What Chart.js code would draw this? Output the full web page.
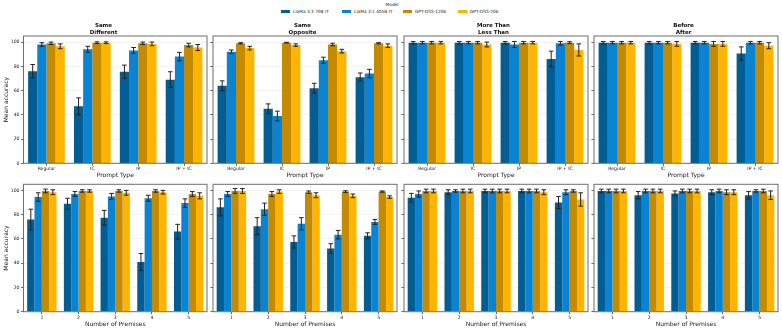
<!DOCTYPE html>
<html><head><meta charset="utf-8">
<script src="https://cdn.jsdelivr.net/npm/chart.js@4.4.1/dist/chart.umd.min.js"></script>
<style>
body{margin:0;background:#fff;width:782px;height:330px;overflow:hidden;position:relative;font-family:"DejaVu Sans",sans-serif;}
canvas{position:absolute;}
.lt{position:absolute;font-size:4.3px;color:#222;white-space:nowrap;line-height:5px;}
.sw{position:absolute;height:3px;width:9px;}
</style></head><body>
<div id="legend"></div>
<script>
// ---------- data ----------
const models = ['LlaMa 3.3 70B IT', 'LlaMa 3.1 405B IT', 'GPT-OSS-120b', 'GPT-OSS-20b'];
const promptTypes = ['Regular', 'IC', 'IP', 'IP + IC'];
const premiseCounts = ['1', '2', '3', '4', '5'];
const yTicks = [0, 20, 40, 60, 80, 100];
const panelTitles = [['Same', 'Different'], ['Same', 'Opposite'], ['More Than', 'Less Than'], ['Before', 'After']];

// rows: [LlaMa 70B, LlaMa 405B, GPT-OSS-120b, GPT-OSS-20b]
const sameDiffPromptMean = [[76, 47, 75.5, 69], [98, 94, 93, 88], [99, 99.5, 99, 97.5], [96.5, 99.5, 98.5, 95.5]];
const sameDiffPromptErr  = [[5.5, 7, 5.5, 6.5], [1.5, 2.5, 2.5, 3.5], [1, 0.7, 1, 1.5], [2, 0.7, 1.5, 2.5]];
const sameOppPromptMean  = [[64, 45, 62, 71], [92, 39, 85, 74], [99, 99.5, 98, 99], [95, 97.5, 92.5, 97]];
const sameOppPromptErr   = [[4, 4, 4, 3.5], [1.5, 4, 2.5, 3.5], [0.5, 0.3, 1, 0.5], [1.5, 1, 1.5, 1.5]];
const moreLessPromptMean = [[99.5, 99.5, 99.5, 86], [99.5, 99.5, 98, 99], [99.5, 99.5, 99.5, 99.5], [99.5, 98, 99.5, 93.5]];
const moreLessPromptErr  = [[1, 1, 1, 6.5], [1, 1, 2.5, 1.5], [1, 1, 1, 0.8], [1, 2, 1, 5]];
const beforeAfterPromptMean = [[99.5, 99.5, 99.5, 90.5], [99.5, 99.5, 99.5, 99.5], [99.5, 99.5, 98.5, 99.5], [99.5, 98.5, 98.5, 97]];
const beforeAfterPromptErr  = [[1, 1, 1, 5.5], [1, 1, 1, 1], [1, 1, 2, 1], [1, 2, 2, 2.5]];

const sameDiffPremMean = [[76, 89, 77.5, 41, 66], [94.5, 97, 95, 93.5, 89.5], [99.5, 99.5, 99.5, 99.5, 97], [98.5, 99.5, 98, 98.5, 95.5]];
const sameDiffPremErr  = [[8.5, 4.5, 6, 7, 6], [3.5, 2, 2.5, 2.5, 3.5], [1.5, 1, 1, 1, 2], [2, 1, 2, 1.5, 2.5]];
const sameOppPremMean  = [[86, 70.5, 57.5, 52, 62.5], [97, 84.5, 72.5, 63.5, 74], [99.5, 97, 98.5, 99, 99], [99.5, 99, 96, 95.5, 94.5]];
const sameOppPremErr   = [[7, 7, 5, 4, 2.5], [2, 5, 5, 3.5, 2], [2, 2, 1, 0.7, 0.5], [2, 1.5, 2, 1.5, 1]];
const moreLessPremMean = [[94, 98.5, 99.5, 99.5, 90], [97, 99.5, 99.5, 99.5, 98.5], [99.5, 99.5, 99.5, 99.5, 99.5], [99.5, 99.5, 99.5, 98.5, 92.5]];
const moreLessPremErr  = [[3.5, 2, 1.5, 1.5, 5], [2.5, 1, 1.5, 1.5, 2], [1.5, 1.5, 1.5, 1.5, 1], [1.5, 1.5, 1.5, 2, 5.5]];
const beforeAfterPremMean = [[99.5, 96, 97.5, 98.5, 96], [99.5, 99.5, 99.5, 99.5, 99.5], [99.5, 99.5, 99.5, 98.5, 99.5], [99.5, 99.5, 99.5, 98.5, 96]];
const beforeAfterPremErr  = [[1.5, 3, 2, 2, 3], [1.5, 1.5, 1.5, 1.5, 1], [1.5, 1.5, 1.5, 2, 1.5], [1.5, 1.5, 1.5, 2, 3.5]];

// ---------- style / layout ----------
const colors = ['#005e94', '#0a84d2', '#c48a00', '#ffb400'];
const FONT = '"DejaVu Sans", sans-serif';
const frameX = [[23.5, 207], [213.3, 397.3], [404, 588], [594, 778]];

const framePlugin = {
  id: 'frameErr',
  afterDatasetsDraw(chart) {
    const ctx = chart.ctx, y = chart.scales.y;
    ctx.save();
    ctx.strokeStyle = '#222';
    ctx.lineWidth = 1;
    chart.data.datasets.forEach((ds, di) => {
      const meta = chart.getDatasetMeta(di);
      meta.data.forEach((bar, i) => {
        const v = ds.data[i], e = ds.errs[i];
        const yt = y.getPixelForValue(v + e), yb = y.getPixelForValue(v - e);
        const x = bar.x, c = 2.3;
        ctx.beginPath();
        ctx.moveTo(x, yt); ctx.lineTo(x, yb);
        ctx.moveTo(x - c, yt); ctx.lineTo(x + c, yt);
        ctx.moveTo(x - c, yb); ctx.lineTo(x + c, yb);
        ctx.stroke();
      });
    });
    ctx.restore();
  },
  afterDraw(chart) {
    const ctx = chart.ctx, a = chart.chartArea;
    ctx.save();
    ctx.strokeStyle = '#6e6e6e';
    ctx.lineWidth = 1;
    ctx.strokeRect(a.left, a.top, a.right - a.left, a.bottom - a.top);
    ctx.restore();
  }
};

function makePanel(row, col, cats, means, errs, title, xTitle) {
  const [fl, fr] = frameX[col];
  const left = col === 0 ? 0 : fl - 5;
  const padLeft = fl - left;
  const width = Math.ceil(fr + 3 - left);
  const top = row === 0 ? 0 : 178;
  const height = row === 0 ? 182 : 152;
  const xh = row === 0 ? 182 - 163.3 : 152 - 133.7;
  const pb = row === 0 ? 3.1 : 2.4;
  const cv = document.createElement('canvas');
  cv.width = width; cv.height = height;
  cv.style.left = left + 'px'; cv.style.top = top + 'px';
  cv.style.width = width + 'px'; cv.style.height = height + 'px';
  document.body.appendChild(cv);
  new Chart(cv, {
    type: 'bar',
    data: {
      labels: cats,
      datasets: models.map((m, k) => ({
        label: m, data: means[k], errs: errs[k], backgroundColor: colors[k],
        borderWidth: 0, categoryPercentage: 0.8, barPercentage: 1
      }))
    },
    options: {
      responsive: false, animation: false, devicePixelRatio: 1,
      layout: { padding: { top: row === 1 ? 6.3 : 0, right: width - (fr - left), left: 0, bottom: 0 } },
      plugins: {
        legend: { display: false }, tooltip: { enabled: false },
        title: row === 0 ? {
          display: true, text: title, color: '#111',
          font: { family: FONT, size: 5.5, weight: 'bold', lineHeight: 1.2 },
          padding: { top: 22.4, bottom: 0.4 }
        } : { display: false }
      },
      scales: {
        x: {
          grid: { display: true, drawOnChartArea: false, offset: false, tickLength: 2.5, tickColor: '#444', tickWidth: 0.8 },
          border: { display: false },
          ticks: { font: { family: FONT, size: 4.6 }, color: '#222', padding: 0.5, maxRotation: 0, autoSkip: false },
          title: { display: true, text: xTitle, color: '#222', font: { family: FONT, size: 6, lineHeight: 1.2 }, padding: { top: 0, bottom: pb } },
          afterFit: s => { s.height = xh; }
        },
        y: {
          min: 0, max: 105,
          afterBuildTicks: s => { s.ticks = yTicks.map(v => ({ value: v })); },
          grid: { color: 'rgba(0,0,0,0.07)', lineWidth: 0.7, tickLength: 2.5, tickColor: '#444', tickWidth: 0.8 },
          border: { display: false },
          ticks: { display: col === 0, font: { family: FONT, size: 4.6 }, color: '#222', padding: 1.5 },
          title: { display: col === 0, text: 'Mean accuracy', color: '#222', font: { family: FONT, size: 6, lineHeight: 1.2 }, padding: { top: 2.4, bottom: 0 } },
          afterFit: s => { s.width = padLeft; }
        }
      }
    },
    plugins: [framePlugin]
  });
}

const promptMeans = [sameDiffPromptMean, sameOppPromptMean, moreLessPromptMean, beforeAfterPromptMean];
const promptErrs = [sameDiffPromptErr, sameOppPromptErr, moreLessPromptErr, beforeAfterPromptErr];
const premMeans = [sameDiffPremMean, sameOppPremMean, moreLessPremMean, beforeAfterPremMean];
const premErrs = [sameDiffPremErr, sameOppPremErr, moreLessPremErr, beforeAfterPremErr];
for (let c = 0; c < 4; c++) {
  makePanel(0, c, promptTypes, promptMeans[c], promptErrs[c], panelTitles[c], 'Prompt Type');
  makePanel(1, c, premiseCounts, premMeans[c], premErrs[c], null, 'Number of Premises');
}

// ---------- legend ----------
const leg = document.getElementById('legend');
const lt = document.createElement('div');
lt.className = 'lt'; lt.textContent = 'Model';
lt.style.left = '392px'; lt.style.top = '1.8px'; lt.style.transform = 'translateX(-50%)';
leg.appendChild(lt);
const swLeft = [281, 342, 403, 458];
models.forEach((m, k) => {
  const sw = document.createElement('div');
  sw.className = 'sw'; sw.style.left = swLeft[k] + 'px'; sw.style.top = '9.5px'; sw.style.background = colors[k];
  leg.appendChild(sw);
  const t = document.createElement('div');
  t.className = 'lt'; t.textContent = m; t.style.left = (swLeft[k] + 12) + 'px'; t.style.top = '8.5px';
  leg.appendChild(t);
});
</script>
</body></html>
